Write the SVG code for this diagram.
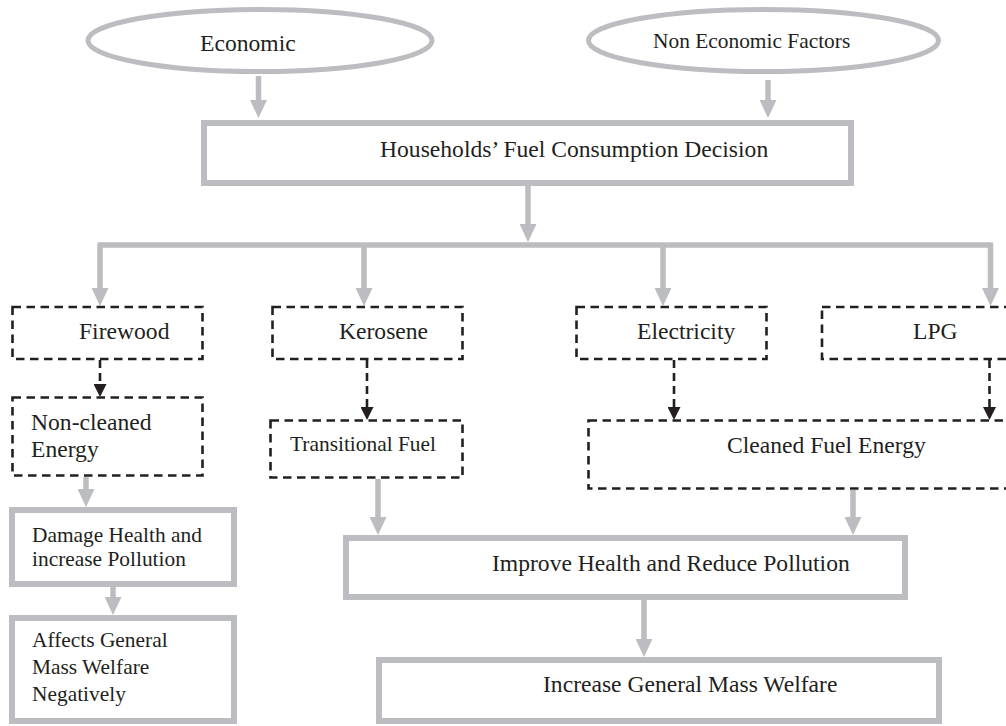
<svg xmlns="http://www.w3.org/2000/svg" width="1006" height="726" viewBox="0 0 1006 726">
<style>
.g{fill:none;stroke:#bcbdc0;stroke-width:6}
.el{fill:none;stroke:#bcbdc0;stroke-width:5}
.d{fill:none;stroke:#231f20;stroke-width:2.6;stroke-dasharray:8.5 5.5}
.gc{fill:none;stroke:#bcbdc0;stroke-width:5.5}
.dc{fill:none;stroke:#231f20;stroke-width:2.6;stroke-dasharray:8 5}
text{font-family:"Liberation Serif","Times New Roman",serif;fill:#231f20;font-size:23.6px}
.s{font-size:21.4px}
</style>
<defs>
<marker id="ga" markerUnits="userSpaceOnUse" viewBox="0 0 18 17" refX="6" refY="8.5" markerWidth="18" markerHeight="17" orient="auto">
<path d="M0,0 L18,8.5 L0,17 z" fill="#bcbdc0"/>
</marker>
<marker id="da" markerUnits="userSpaceOnUse" viewBox="0 0 13 13" refX="4" refY="6.5" markerWidth="13" markerHeight="13" orient="auto">
<path d="M0,0 L13,6.5 L0,13 z" fill="#231f20"/>
</marker>
</defs>
<rect width="1006" height="726" fill="#fff"/>
<g id="connectors">
<path class="gc" d="M258.5,76 V106" marker-end="url(#ga)"/>
<path class="gc" d="M768,80 V106" marker-end="url(#ga)"/>
<path class="gc" d="M528,186 V230" marker-end="url(#ga)"/>
<path class="gc" d="M100,245 H990.5"/>
<path class="gc" d="M100,242.5 V294" marker-end="url(#ga)"/>
<path class="gc" d="M364,245 V294" marker-end="url(#ga)"/>
<path class="gc" d="M663,245 V294" marker-end="url(#ga)"/>
<path class="gc" d="M990.5,242.5 V294" marker-end="url(#ga)"/>
<path class="gc" d="M86,477 V495" marker-end="url(#ga)"/>
<path class="gc" d="M113,587 V603" marker-end="url(#ga)"/>
<path class="gc" d="M378,479 V523" marker-end="url(#ga)"/>
<path class="gc" d="M853,490 V523" marker-end="url(#ga)"/>
<path class="gc" d="M644,600 V645" marker-end="url(#ga)"/>
<path class="dc" d="M100,360 V388" marker-end="url(#da)"/>
<path class="dc" d="M367,360 V411" marker-end="url(#da)"/>
<path class="dc" d="M674,360 V411" marker-end="url(#da)"/>
<path class="dc" d="M989.5,360 V411" marker-end="url(#da)"/>
</g>
<g id="economic">
<ellipse class="el" cx="260" cy="40.5" rx="172" ry="31"/>
<text x="200" y="51">Economic</text>
</g>
<g id="non-economic">
<ellipse class="el" cx="763.5" cy="40.5" rx="175" ry="31"/>
<text class="s" x="653" y="48">Non Economic Factors</text>
</g>
<g id="decision">
<rect class="g" x="204" y="123" width="647" height="60"/>
<text x="380" y="157">Households’ Fuel Consumption Decision</text>
</g>
<g id="firewood">
<rect class="d" x="12.5" y="307" width="190" height="52"/>
<text x="79" y="339">Firewood</text>
</g>
<g id="kerosene">
<rect class="d" x="272.5" y="307" width="190" height="52"/>
<text x="339" y="339">Kerosene</text>
</g>
<g id="electricity">
<rect class="d" x="576.5" y="307" width="190" height="52"/>
<text x="637" y="339">Electricity</text>
</g>
<g id="lpg">
<rect class="d" x="822" y="307" width="192" height="52"/>
<text x="913" y="339">LPG</text>
</g>
<g id="non-cleaned">
<rect class="d" x="12.5" y="397.5" width="190" height="78"/>
<text x="31" y="430">Non-cleaned</text>
<text x="31" y="457">Energy</text>
</g>
<g id="transitional">
<rect class="d" x="270.5" y="420.5" width="192" height="57"/>
<text class="s" x="290" y="451">Transitional Fuel</text>
</g>
<g id="cleaned">
<rect class="d" x="588.5" y="420.5" width="430" height="68"/>
<text x="727" y="453">Cleaned Fuel Energy</text>
</g>
<g id="damage">
<rect class="g" x="12" y="510" width="222" height="74"/>
<text class="s" x="32" y="542">Damage Health and</text>
<text class="s" x="32" y="566">increase Pollution</text>
</g>
<g id="affects">
<rect class="g" x="12" y="618" width="222" height="103"/>
<text class="s" x="32" y="647">Affects General</text>
<text class="s" x="32" y="674">Mass Welfare</text>
<text class="s" x="32" y="701">Negatively</text>
</g>
<g id="improve">
<rect class="g" x="346" y="538" width="559" height="59"/>
<text x="492" y="571">Improve Health and Reduce Pollution</text>
</g>
<g id="increase">
<rect class="g" x="379" y="660" width="560" height="61"/>
<text x="543" y="692">Increase General Mass Welfare</text>
</g>
</svg>
